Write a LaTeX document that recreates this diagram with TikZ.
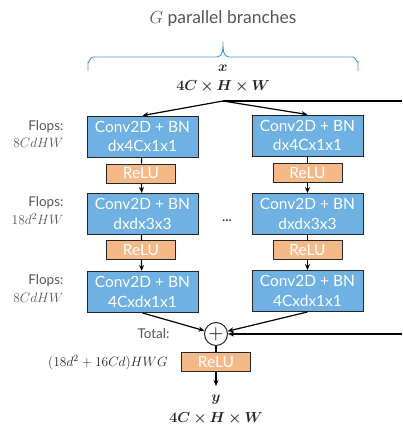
\RequirePackage{fix-cm}
\documentclass[tikz,border=0pt]{standalone}
\usepackage{amsmath,bm}
\usepackage{fontspec}
\setmainfont{Lato}
\usetikzlibrary{arrows.meta}
\definecolor{boxblue}{HTML}{6EB1E2}
\definecolor{reluorange}{HTML}{F4B987}
\definecolor{bracecol}{HTML}{4A94D4}
\definecolor{txtgray}{HTML}{555555}
\tikzset{
  convbox/.style={draw=black!85, line width=0.9pt, fill=boxblue, minimum width=111pt, minimum height=41pt, inner sep=0pt, align=center, text=white, font=\fontsize{15.5}{19.5}\selectfont},
  relubox/.style={draw=black!85, line width=0.9pt, fill=reluorange, minimum width=69pt, minimum height=19pt, inner sep=0pt, text=white, font=\fontsize{15.5}{15}\selectfont},
  arr/.style={line width=1.2pt, -{Stealth[length=6pt,width=5pt]}},
  plain/.style={line width=1.2pt},
  flops/.style={anchor=east, align=right, text=txtgray, font=\fontsize{13.5}{17.5}\selectfont},
  mathlbl/.style={text=black!85, font=\fontsize{14.5}{17}\selectfont}
}
\begin{document}
\begin{tikzpicture}[x=1pt,y=-1pt]
\useasboundingbox (0,0) rectangle (402,428);
% title and brace
\node[text=txtgray, font=\fontsize{17.5}{19}\selectfont] (title) at (223,19) {$G$ parallel branches};
\draw[bracecol, line width=0.9pt] (88,71) -- (88,62) to[out=-90,in=180] (93,57) -- (217,57) to[out=0,in=-90] (223,42) to[out=-90,in=180] (229,57) -- (353,57) to[out=0,in=-90] (358,62) -- (358,71);
\node[mathlbl] (xin) at (223,68) {$\bm{x}$};
\node[mathlbl] (xdim) at (223,86) {$\bm{4C\times H\times W}$};
\coordinate (split) at (223,101);
\coordinate (rtop) at (402,101);
\coordinate (rbot) at (402,334);
% left branch
\node[convbox] (b1L) at (142.5,136.5) {Conv2D + BN\\dx4Cx1x1};
\node[relubox] (r1L) at (141,173.5) {ReLU};
\node[convbox] (b2L) at (142.5,214) {Conv2D + BN\\dxdx3x3};
\node[relubox] (r2L) at (141,250) {ReLU};
\node[convbox] (b3L) at (142.5,292) {Conv2D + BN\\4Cxdx1x1};
% right branch
\node[convbox] (b1R) at (307.5,135.5) {Conv2D + BN\\dx4Cx1x1};
\node[relubox] (r1R) at (307.5,173) {ReLU};
\node[convbox] (b2R) at (307.5,214) {Conv2D + BN\\dxdx3x3};
\node[relubox] (r2R) at (307.5,250) {ReLU};
\node[convbox] (b3R) at (307.5,291) {Conv2D + BN\\4Cxdx1x1};
\node[text=black!85, font=\fontsize{14}{15}\selectfont] (dots) at (227,221) {...};
% flops labels
\node[flops] (f1) at (67,134) {Flops:\\$8CdHW$};
\node[flops] (f2) at (67,210.5) {Flops:\\$18d^2HW$};
\node[flops] (f3) at (67,288.5) {Flops:\\$8CdHW$};
% sum and output
\node[draw=black!85, line width=1pt, circle, minimum size=23pt, inner sep=0pt, font=\fontsize{21}{21}\selectfont] (sum) at (216,334) {$+$};
\node[text=txtgray, anchor=east, font=\fontsize{13.5}{15}\selectfont] (total) at (173,334) {Total:};
\node[text=black!85, anchor=east, font=\fontsize{13.5}{15}\selectfont] (totf) at (171,363) {$(18d^2+16Cd)HWG$};
\node[relubox] (r3) at (216,362) {ReLU};
\coordinate (outend) at (216,386);
\node[mathlbl] (yout) at (216,400) {$\bm{y}$};
\node[mathlbl] (ydim) at (216,418) {$\bm{4C\times H\times W}$};
% connectors
\draw[plain] (split) -- (rtop);
\draw[arr] (split) -- (b1L.north);
\draw[arr] (split) -- (b1R.north);
\draw[plain] (b1L) -- (r1L);
\draw[arr] (r1L) -- (b2L);
\draw[plain] (b2L) -- (r2L);
\draw[arr] (r2L) -- (b3L);
\draw[plain] (b1R) -- (r1R);
\draw[arr] (r1R) -- (b2R);
\draw[plain] (b2R) -- (r2R);
\draw[arr] (r2R) -- (b3R);
\draw[arr] (b3L.south) -- (sum);
\draw[arr] (b3R.south) -- (sum);
\draw[arr] (rbot) -- (sum);
\draw[plain] (sum) -- (r3);
\draw[arr] (r3) -- (outend);
\end{tikzpicture}
\end{document}
